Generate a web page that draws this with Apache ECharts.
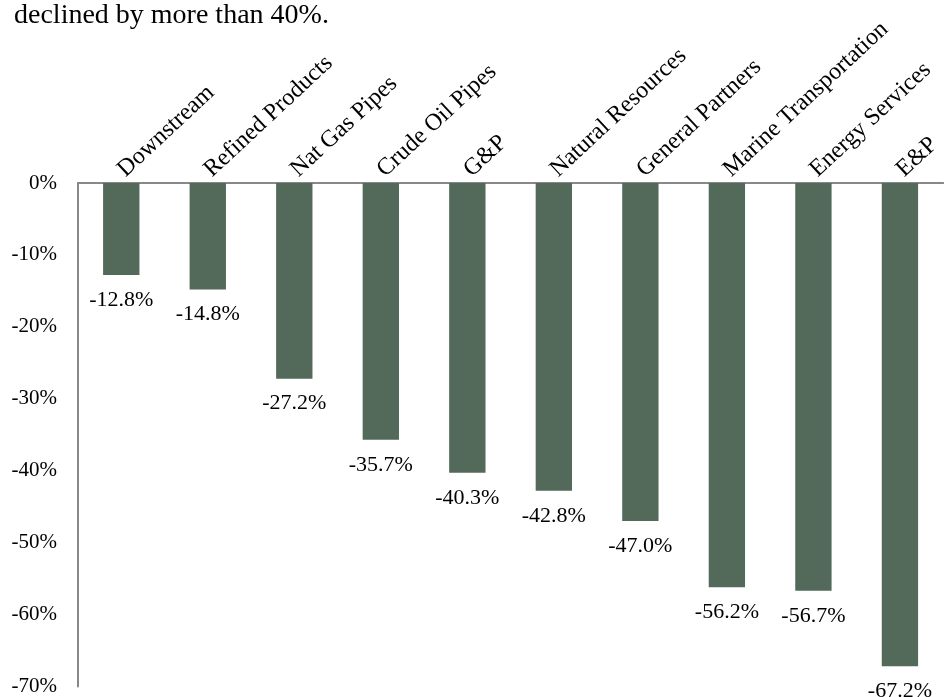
<!DOCTYPE html>
<html><head><meta charset="utf-8">
<script src="https://cdn.jsdelivr.net/npm/echarts@6/dist/echarts.min.js"></script>
<style>html,body{margin:0;padding:0;background:#fff}#c{width:944px;height:697px}</style>
</head><body><div id="c"></div>
<script>
const categories = ["Downstream","Refined Products","Nat Gas Pipes","Crude Oil Pipes","G&P","Natural Resources","General Partners","Marine Transportation","Energy Services","E&P"];
const values = [-12.8,-14.8,-27.2,-35.7,-40.3,-42.8,-47.0,-56.2,-56.7,-67.2];
const titleText = "declined by more than 40%.";
const FONT = "'Liberation Serif', 'DejaVu Serif', serif";
const chart = echarts.init(document.getElementById('c'), null, {renderer:'canvas'});
chart.setOption({
  animation:false,
  backgroundColor:'#fff',
  title:{text:titleText,left:9,top:-3,textStyle:{fontFamily:FONT,fontSize:28,fontWeight:'normal',color:'#000'}},
  grid:{left:78,right:-8,top:183,bottom:7,containLabel:false},
  xAxis:{type:'category',data:categories,position:'top',
    axisLine:{lineStyle:{color:'#888',width:2}},axisTick:{show:false},
    axisLabel:{rotate:43,interval:0,margin:10,fontFamily:FONT,fontSize:24,color:'#000'}},
  yAxis:{type:'value',min:-70,max:0,interval:10,
    axisLine:{show:true,lineStyle:{color:'#888',width:2}},axisTick:{show:false},splitLine:{show:false},
    axisLabel:{margin:21,fontFamily:FONT,fontSize:21,color:'#000',formatter:v=>v+'%'}},
  series:[{type:'bar',data:values,barWidth:'42%',itemStyle:{color:'#53695A'},
    label:{show:true,position:'bottom',distance:14,fontFamily:FONT,fontSize:22,color:'#000',formatter:p=>p.value.toFixed(1)+'%'}}]
});
</script></body></html>
